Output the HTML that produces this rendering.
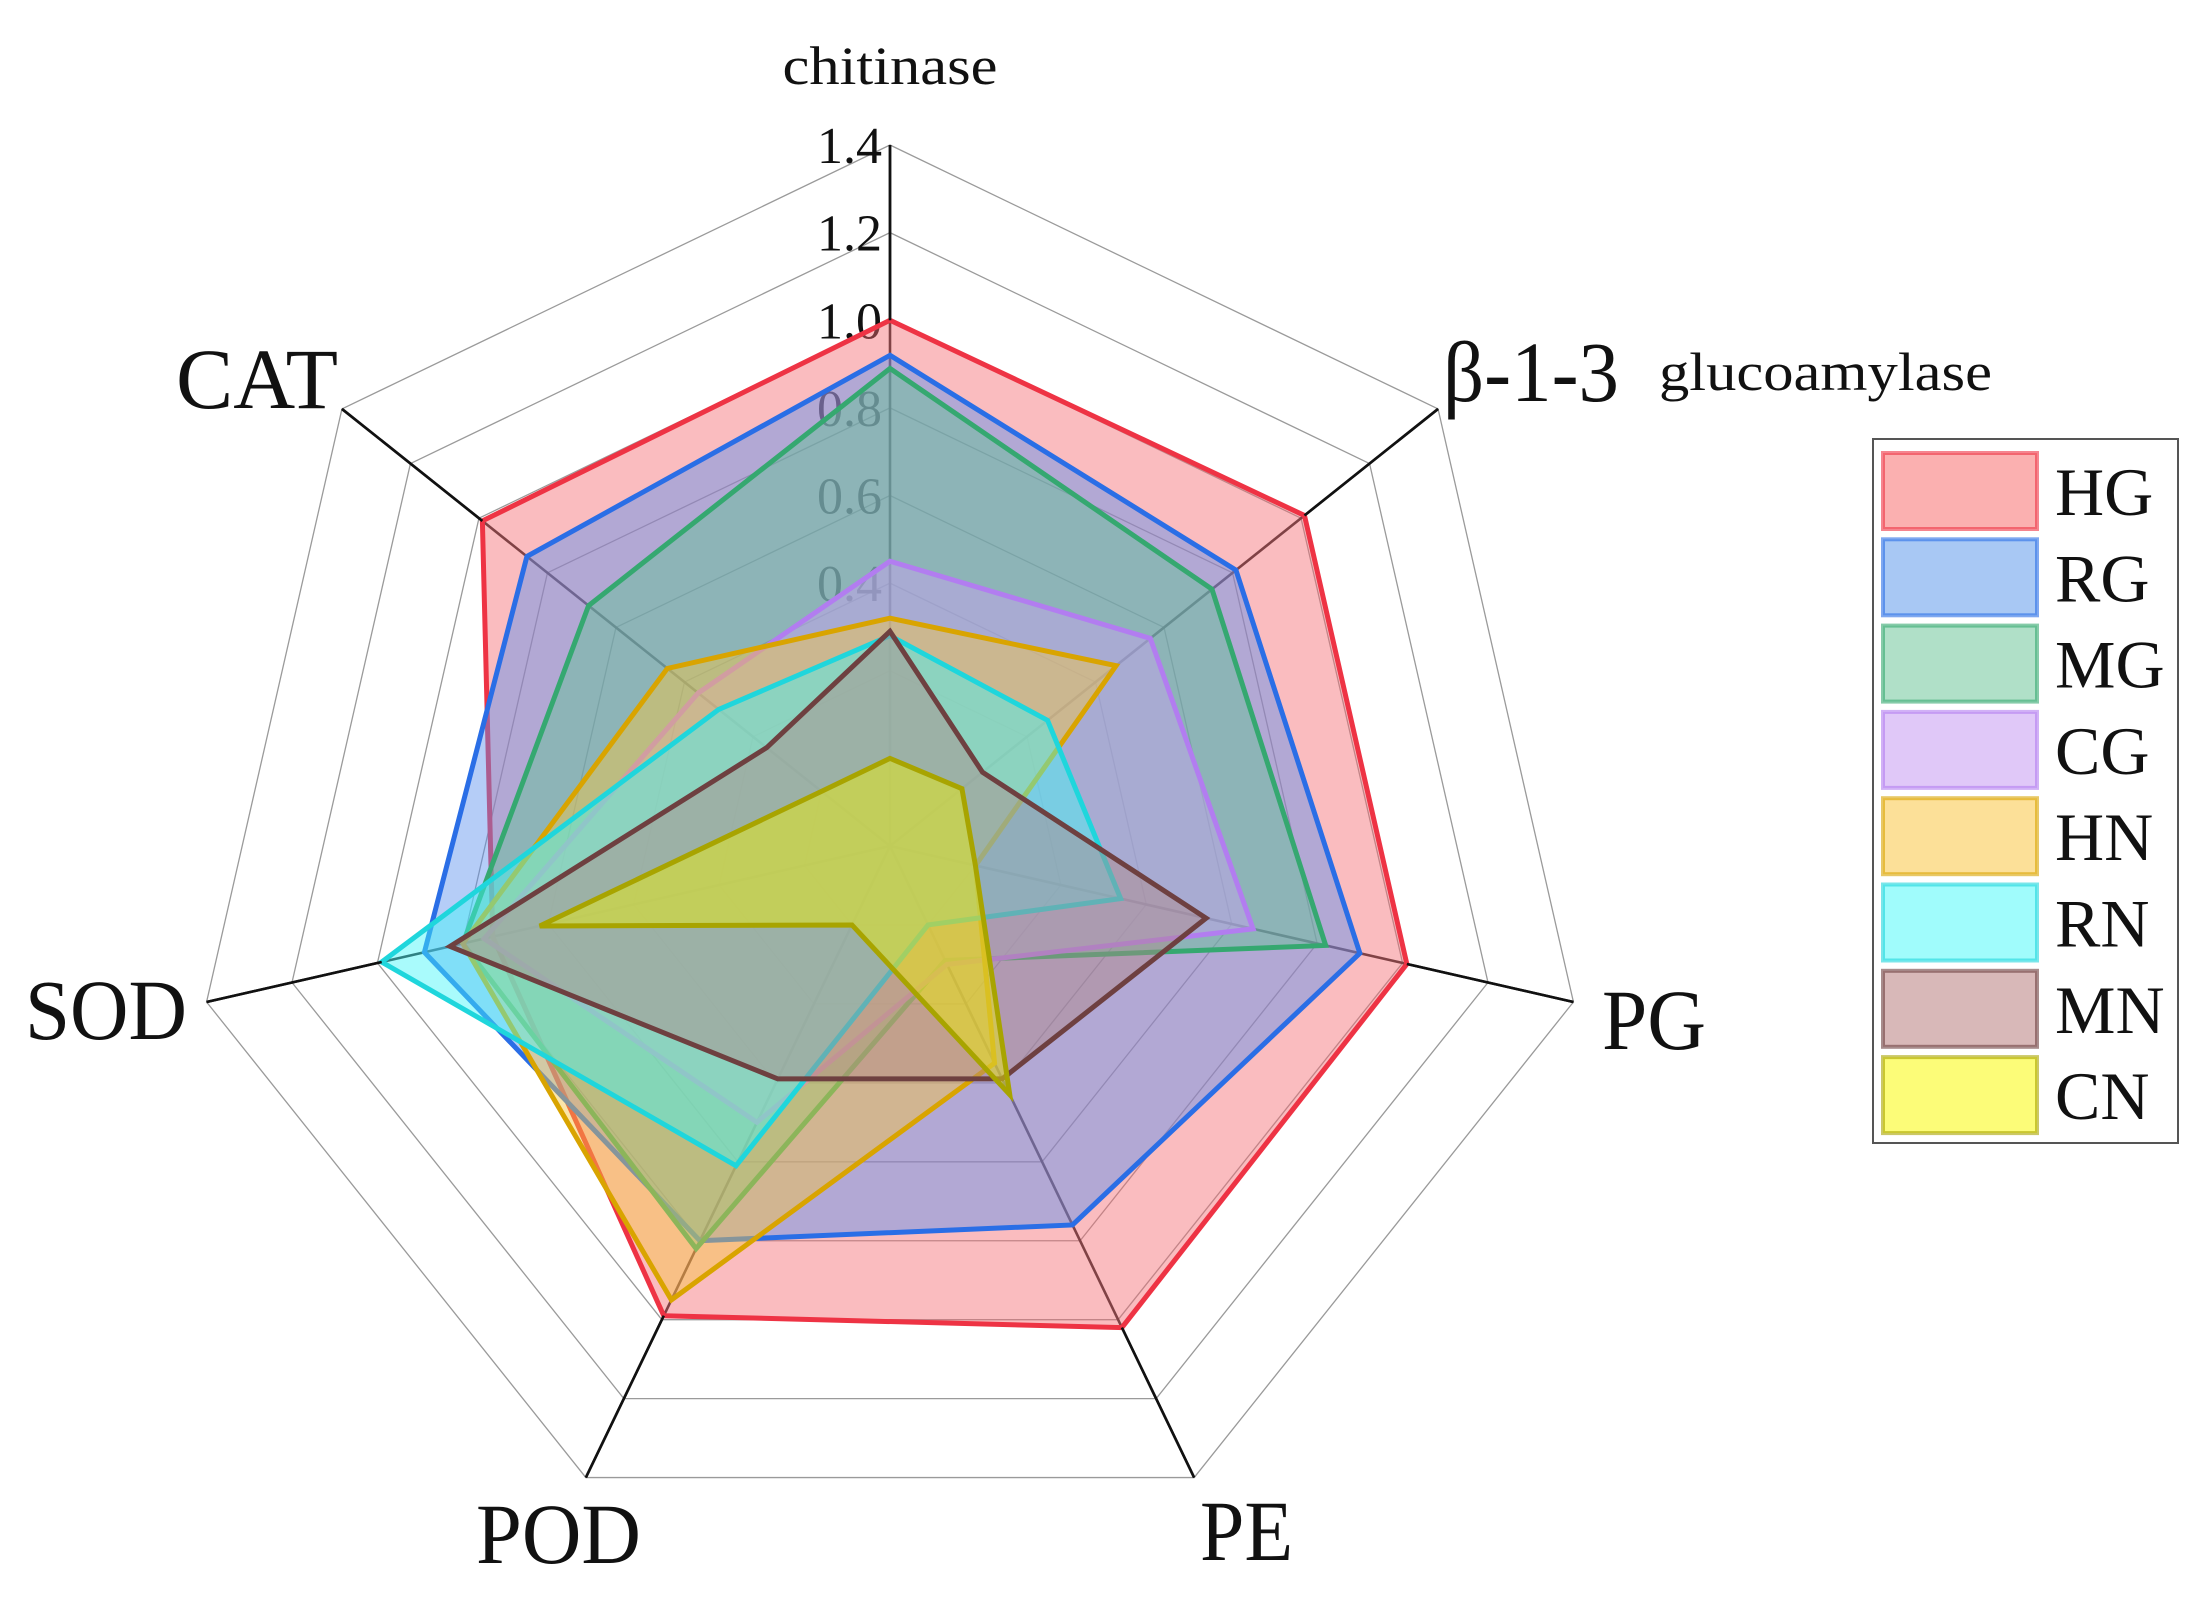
<!DOCTYPE html>
<html><head><meta charset="utf-8"><style>
html,body{margin:0;padding:0;background:#fff;}
svg{display:block;}
text{font-family:"Liberation Serif",serif;fill:#111;}
</style></head><body>
<svg id="chart" width="2197" height="1604" viewBox="0 0 2197 1604" xmlns="http://www.w3.org/2000/svg">
<g id="grid"></g>
<g id="ticks"></g>
<g id="series"></g>
<g id="spokesTop"></g>
<g id="axisLabels"></g>
<g id="legend"></g>
</svg>
<script>
const categories = ["chitinase","β-1-3 glucoamylase","PG","PE","POD","SOD","CAT"];
const tickValues = [0.4,0.6,0.8,1.0,1.2,1.4];
const tickLabels = ["0.4","0.6","0.8","1.0","1.2","1.4"];
const seriesNames = ["HG","RG","MG","CG","HN","RN","MN","CN"];
const HG = [1.00,1.01,1.01,1.02,0.99,0.73,0.99];
const RG = [0.92,0.81,0.90,0.76,0.80,0.89,0.86];
const MG = [0.89,0.74,0.82,0.09,0.82,0.80,0.68];
const CG = [0.45,0.56,0.65,0.10,0.50,0.75,0.36];
const HN = [0.32,0.46,0.00,0.35,0.95,0.80,0.45];
const RN = [0.28,0.26,0.34,0.00,0.61,0.99,0.30];
const MN = [0.29,0.07,0.54,0.39,0.39,0.83,0.16];
const CN = [0.00,0.01,0.00,0.43,0.00,0.62,0.00];
const seriesData = [HG,RG,MG,CG,HN,RN,MN,CN];
const strokes = ["#ee3344","#2a6ee6","#35a870","#b27df0","#d9a400","#1fd6dc","#6e4040","#a8a400"];
const fills = ["#f46a72","#5a90ee","#60c495","#c9a0f5","#f6c640","#40f6f8","#b08888","#f2f200"];
const legendFills = ["#fbb0b0","#a8c8f4","#b0e0c8","#e0c8f8","#fce098","#a0fcfc","#d8b8b8","#fcfc78"];

const NS="http://www.w3.org/2000/svg";
const cx=890, cy=846, R=701, vmin=-0.2, vmax=1.4;
function rScale(v){return (v-vmin)/(vmax-vmin)*R;}
function ang(k){return k*2*Math.PI/categories.length;}
function pt(k,v){const r=rScale(v),a=ang(k);return [cx+r*Math.sin(a),cy-r*Math.cos(a)];}
function mk(tag,attrs,parent){const e=document.createElementNS(NS,tag);for(const k in attrs)e.setAttribute(k,attrs[k]);parent.appendChild(e);return e;}

const grid=document.getElementById('grid');
for(let v=0;v<=1.4001;v+=0.2){
  const pts=categories.map((c,k)=>pt(k,v).join(',')).join(' ');
  const g=mk('polygon',{points:pts,fill:'none',stroke:'#9a9a9a','stroke-width':1.3},grid);
  
  
}
categories.forEach((c,k)=>{
  const [x,y]=pt(k,vmax);
  const l=mk('line',{x1:cx,y1:cy,x2:x,y2:y,stroke:'#222','stroke-width':2.6},grid);
  
  
});
const ticks=document.getElementById('ticks');
tickValues.forEach((v,i)=>{
  const y=cy-rScale(v);
  const t=mk('text',{x:cx-8,y:y+18,'text-anchor':'end','font-size':52},ticks);
  t.textContent=tickLabels[i];
  
  
});
const sg=document.getElementById('series');
seriesData.forEach((d,i)=>{
  const pts=d.map((v,k)=>pt(k,v).join(',')).join(' ');
  const p=mk('polygon',{points:pts,fill:fills[i],'fill-opacity':0.45,stroke:strokes[i],'stroke-width':5,'stroke-linejoin':'miter'},sg);
  
  
});
const st=document.getElementById('spokesTop');
categories.forEach((c,k)=>{
  const mx=Math.max(...seriesData.map(d=>d[k]));
  const [x1,y1]=pt(k,mx);const [x2,y2]=pt(k,vmax);
  const l=mk('line',{x1:x1,y1:y1,x2:x2,y2:y2,stroke:'#111','stroke-width':2.6},st);
  
  
});
</script>
<script>
(function(){
const NS="http://www.w3.org/2000/svg";
const al=document.getElementById('axisLabels');
const labs=[
 {t:"chitinase",x:890,y:84,s:54,a:"middle",n:"label-chitinase",w:215},
 {t:"β-1-3",x:1443,y:401,s:86,a:"start",n:"label-beta-1-3",w:176},
 {t:"glucoamylase",x:1659,y:390,s:54,a:"start",n:"label-glucoamylase",w:333},
 {t:"CAT",x:176,y:408,s:86,a:"start",n:"label-cat",w:162},
 {t:"SOD",x:25,y:1039,s:86,a:"start",n:"label-sod",w:162},
 {t:"PG",x:1602,y:1049,s:86,a:"start",n:"label-pg",w:104},
 {t:"POD",x:476,y:1563,s:86,a:"start",n:"label-pod",w:165},
 {t:"PE",x:1200,y:1560,s:86,a:"start",n:"label-pe",w:93}];
labs.forEach(o=>{const e=document.createElementNS(NS,'text');e.setAttribute('x',o.x);e.setAttribute('y',o.y);e.setAttribute('font-size',o.s);e.setAttribute('text-anchor',o.a);e.setAttribute('textLength',o.w);e.setAttribute('lengthAdjust','spacingAndGlyphs');e.textContent=o.t;


al.appendChild(e);});
const lg=document.getElementById('legend');
const box=document.createElementNS(NS,'rect');
box.setAttribute('x',1873);box.setAttribute('y',439);box.setAttribute('width',305);box.setAttribute('height',704);box.setAttribute('fill','#fff');box.setAttribute('stroke','#555');box.setAttribute('stroke-width',2);


lg.appendChild(box);
seriesNames.forEach((n,i)=>{
  const y=453+i*86.3;
  const r=document.createElementNS(NS,'rect');
  r.setAttribute('x',1883);r.setAttribute('y',y);r.setAttribute('width',154);r.setAttribute('height',76);r.setAttribute('fill',legendFills[i]);r.setAttribute('stroke',strokes[i]);r.setAttribute('stroke-opacity',0.6);r.setAttribute('stroke-width',4);
  
  
  lg.appendChild(r);
  const t=document.createElementNS(NS,'text');
  t.setAttribute('x',2055);t.setAttribute('y',y+62);t.setAttribute('font-size',68);t.textContent=n;
  
  
  lg.appendChild(t);
});
})();
</script>
</body></html>
